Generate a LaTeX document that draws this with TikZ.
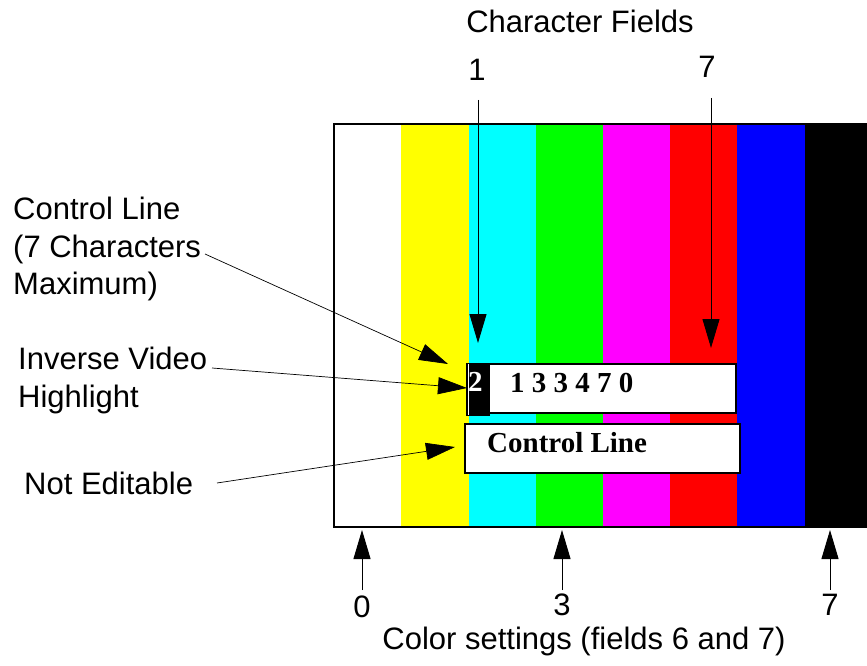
\documentclass[tikz,border=0pt]{standalone}
\usepackage{fontspec}
\setmainfont{Liberation Sans}
\newfontfamily\serifbold{Liberation Serif}
\usetikzlibrary{arrows.meta}
\definecolor{cyanC}{RGB}{0,255,255}
\definecolor{greenC}{RGB}{0,255,0}
\definecolor{magC}{RGB}{255,0,255}
\definecolor{redC}{RGB}{255,0,0}
\definecolor{blueC}{RGB}{0,0,255}
\definecolor{yelC}{RGB}{255,255,0}
\tikzset{
  lbl/.style={font=\fontsize{31}{37.5}\selectfont, inner sep=0pt},
  boxtext/.style={font=\serifbold\bfseries\fontsize{29}{34}\selectfont, inner sep=0pt},
  bigarrow/.style={-{Triangle[length=29pt,width=17pt]}, line width=1pt},
  leader/.style={-{Triangle[length=29pt,width=17pt]}, line width=0.7pt}
}
\begin{document}
\begin{tikzpicture}[x=1pt,y=-1pt]
\useasboundingbox (0,0) rectangle (867,666);
% stripes
\fill[white] (334,124) rectangle (401,527);
\fill[yelC] (401,124) rectangle (469,527);
\fill[cyanC] (469,124) rectangle (536,527);
\fill[greenC] (536,124) rectangle (603,527);
\fill[magC] (603,124) rectangle (670,527);
\fill[redC] (670,124) rectangle (737,527);
\fill[blueC] (737,124) rectangle (805,527);
\fill[black] (805,124) rectangle (867,527);
\draw[line width=2pt] (334,124) rectangle (867,527);
% upper control line box
\node[draw, line width=2pt, fill=white, minimum width=269pt, minimum height=49pt, inner sep=0pt, anchor=north west] (ctrl) at (466,363) {};
\fill[black] (466,363) rectangle (490,416);
\draw[white, line width=1pt] (468,364) -- (468,415);
\node[boxtext, text=white, anchor=west] (two) at (468,382) {2};
\node[boxtext, anchor=west] (digits) at (510,383) {1 3 3 4 7 0};
% lower box
\node[draw, line width=2pt, fill=white, minimum width=275pt, minimum height=49pt, inner sep=0pt, anchor=north west] (noted) at (464,423) {};
\node[boxtext, anchor=west] (ctext) at (487,443) {Control Line};
% top labels
\node[lbl] (title) at (580,21) {Character Fields};
\node[lbl] (f1) at (477,70) {1};
\node[lbl] (f7) at (707,67) {7};
\coordinate (t1) at (478,343);
\coordinate (t7) at (711,348);
\draw[bigarrow] (478,100) -- (t1);
\draw[bigarrow] (711,98) -- (t7);
% left labels
\node[lbl, anchor=north west, align=left] (cl) at (13,197) {Control Line\\(7 Characters\\Maximum)};
\node[lbl, anchor=north west, align=left] (iv) at (18,347) {Inverse Video\\Highlight};
\node[lbl, anchor=west] (ne) at (24,483) {Not Editable};
\coordinate (clS) at (205,254);
\coordinate (clT) at (448,364);
\coordinate (ivS) at (212,368);
\coordinate (ivT) at (467,388);
\coordinate (neS) at (217,483);
\coordinate (neT) at (455,447);
\draw[leader] (clS) -- (clT);
\draw[leader] (ivS) -- (ivT);
\draw[leader] (neS) -- (neT);
% bottom
\node[lbl] (c0) at (362,607) {0};
\node[lbl] (c3) at (562,605) {3};
\node[lbl] (c7) at (830,605) {7};
\draw[bigarrow] (362,590) -- (362,530);
\draw[bigarrow] (562,590) -- (562,530);
\draw[bigarrow] (830,590) -- (830,530);
\node[lbl] (cs) at (584,641) {Color settings (fields 6 and 7)};
\end{tikzpicture}
\end{document}
